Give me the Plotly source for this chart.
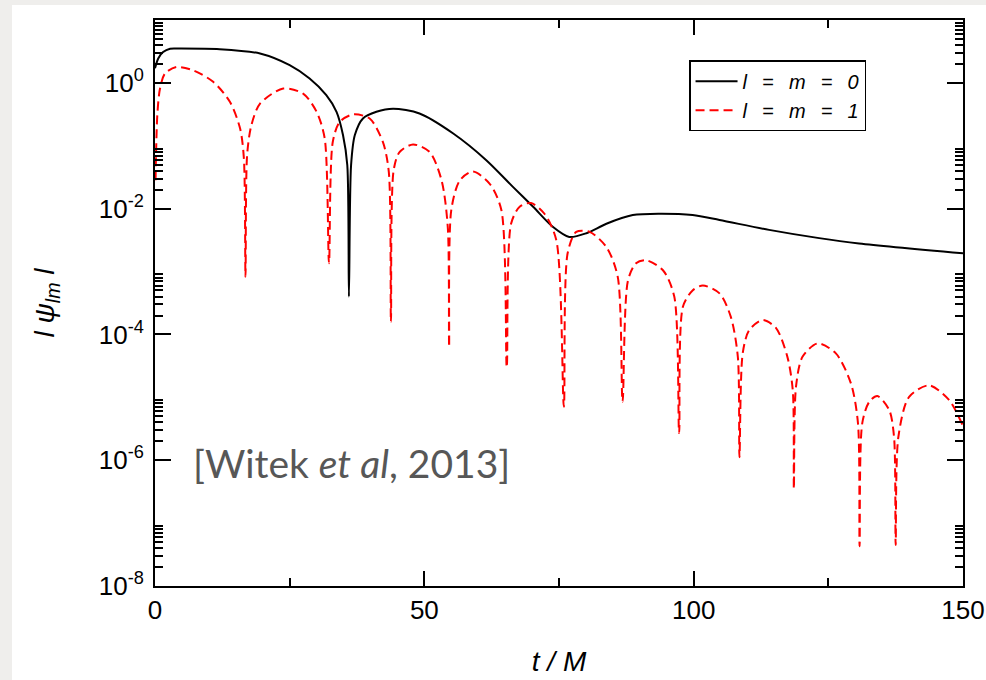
import plotly.graph_objects as go

# ---- data ----
t_l0 = [0, 0.6, 1.5, 2.8, 4.6, 12, 19.5, 25, 28.7, 31.8, 33.7, 34.9, 35.7, 36.0,
        36.4, 37.1, 38.6, 41.1, 44.2, 49.1, 55.3, 61.5, 66.4, 70.2, 73.9, 76.9,
        80.1, 83.8, 88.7, 93.6, 99.8, 104.8, 114, 123.3, 130.7, 150]
psi_l0 = [1.71, 2.45, 3.09, 3.50, 3.52, 3.44, 2.93, 1.91, 1.17, 0.637, 0.347, 0.148,
          0.049, 4.0e-4, 0.049, 0.148, 0.272, 0.347, 0.389, 0.326, 0.158, 0.059,
          0.0224, 0.0107, 5.1e-3, 3.55e-3, 4.07e-3, 5.75e-3, 7.9e-3, 8.3e-3, 7.9e-3,
          6.6e-3, 4.6e-3, 3.4e-3, 2.8e-3, 1.95e-3]

t_l1 = [0.1, 0.43, 0.93, 1.85, 4.0, 7.1, 10.8, 13.9, 15.8, 16.5, 16.8, 17.1, 17.9,
        19.5, 23.8, 27.5, 30.0, 31.5, 32.3, 33.0, 34.3, 36.8, 39.9, 42.3, 43.4,
        43.8, 44.3, 45.4, 47.9, 51.0, 53.2, 54.35, 54.6, 55.0, 56.6, 59.0, 62.1,
        64.3, 65.3, 66.1, 67.7, 69.8, 72.3, 74.5, 75.9, 76.6, 78.2, 80.7, 83.8,
        85.9, 86.8, 87.8, 89.3, 91.2, 94.3, 96.4, 97.3, 98.0, 99.8, 101.7, 104.8,
        106.9, 108.2, 108.5, 109.1, 110.3, 112.8, 115.3, 117.4, 118.4, 118.6,
        119.0, 120.2, 123.0, 126.4, 129.2, 130.5, 130.8, 131.3, 132.6, 134.1,
        136.3, 137.2, 137.5, 138.0, 140.0, 143.7, 147.4, 150]
psi_l1 = [0.0282, 0.309, 0.813, 1.41, 1.79, 1.58, 1.04, 0.501, 0.188, 0.063, 8.3e-4,
          0.0708, 0.214, 0.468, 0.813, 0.676, 0.347, 0.132, 1.35e-3, 0.115, 0.240,
          0.316, 0.269, 0.115, 0.0389, 1.58e-4, 0.0407, 0.0794, 0.105, 0.0794,
          0.0282, 5.1e-3, 6.3e-5, 9.5e-3, 0.0282, 0.0389, 0.0251, 9.5e-3, 3.0e-5,
          5.75e-3, 0.0107, 0.0123, 8.3e-3, 3.16e-3, 7.1e-6, 1.95e-3, 4.27e-3,
          4.27e-3, 2.45e-3, 8.3e-4, 8.5e-6, 7.2e-4, 1.35e-3, 1.51e-3, 1.05e-3,
          4.0e-4, 2.7e-6, 2.75e-4, 5.0e-4, 6.0e-4, 4.5e-4, 1.9e-4, 4.4e-5, 1.12e-6,
          5.0e-5, 1.17e-4, 1.70e-4, 1.26e-4, 4.4e-5, 1.29e-5, 3.5e-7, 1.48e-5,
          4.4e-5, 7.2e-5, 5.0e-5, 1.66e-5, 3.9e-6, 4.3e-8, 3.9e-6, 8.5e-6, 1.05e-5,
          6.3e-6, 2.34e-6, 4.5e-8, 2.34e-6, 1.02e-5, 1.55e-5, 9.1e-6, 3.5e-6]

x_tickvals = [0, 50, 100, 150]
x_ticktext = ["0", "50", "100", "150"]
x_minor = [25, 75, 125]
y_exponents = [0, -2, -4, -6, -8]
y_tickvals = [10.0 ** e for e in y_exponents]
y_ticktext = ["10<sup>%d</sup>" % e for e in y_exponents]
y_minor = [k * 10.0 ** e for e in y_exponents for k in range(2, 10)]

GAP = " \u00a0\u2009"
name_l0 = "<i>l" + GAP + "=" + GAP + "m" + GAP + "=" + GAP + "0</i>"
name_l1 = "<i>l" + GAP + "=" + GAP + "m" + GAP + "=" + GAP + "1</i>"
citation = "[Witek <i>et al</i>, 2013]"

PAGE_GRAY = "#efeeec"

fig = go.Figure()
fig.add_trace(go.Scatter(x=t_l0, y=psi_l0, mode="lines", name=name_l0,
                         line=dict(color="black", width=2, shape="spline",
                                   smoothing=0.8)))
fig.add_trace(go.Scatter(x=t_l1, y=psi_l1, mode="lines", name=name_l1,
                         line=dict(color="#ff0000", width=2, dash="9px,5px",
                                   shape="spline", smoothing=0.8)))

# grey page edge around the white card (left and top strips)
fig.add_shape(type="rect", xref="paper", yref="paper", layer="below",
              x0=-0.25, x1=-0.177, y0=-0.3, y1=1.1,
              fillcolor=PAGE_GRAY, line=dict(width=0))
fig.add_shape(type="rect", xref="paper", yref="paper", layer="below",
              x0=-0.25, x1=1.1, y0=1.0265, y1=1.1,
              fillcolor=PAGE_GRAY, line=dict(width=0))

fig.add_annotation(text=citation, xref="paper", yref="paper", x=0.044, y=0.217,
                   xanchor="left", yanchor="middle", showarrow=False,
                   font=dict(family="Lato", size=39, color="#575757"))

axis_font = dict(family="Liberation Sans, Arial", size=26, color="black")

fig.update_layout(
    template="none",
    width=986, height=680,
    margin=dict(l=155, r=23, t=20, b=94, autoexpand=False),
    paper_bgcolor="white", plot_bgcolor="white",
    showlegend=True,
    legend=dict(x=0.88, y=0.929, xanchor="right", yanchor="top",
                bgcolor="white", bordercolor="black", borderwidth=1.5,
                font=dict(family="Liberation Sans, Arial", size=20, color="black"),
                itemwidth=42, tracegroupgap=0),
    xaxis=dict(range=[0, 150], tickmode="array", tickvals=x_tickvals,
               ticktext=x_ticktext, ticks="inside", ticklen=15, tickwidth=1.5,
               tickcolor="black", showline=True, linecolor="black", linewidth=2,
               mirror="allticks", showgrid=False, zeroline=False, automargin=False,
               tickfont=axis_font,
               minor=dict(tickvals=x_minor, ticks="inside", ticklen=8,
                          tickwidth=1.5, tickcolor="black", showgrid=False),
               title=dict(text="<i>t / M</i>", standoff=27,
                          font=dict(family="Liberation Sans, Arial", size=28,
                                    color="black"))),
    yaxis=dict(type="log", range=[-8, 1], tickmode="array", tickvals=y_tickvals,
               ticktext=y_ticktext, ticks="inside", ticklen=16, tickwidth=1.5,
               tickcolor="black", showline=True, linecolor="black", linewidth=2,
               mirror="allticks", showgrid=False, zeroline=False, automargin=False,
               tickfont=axis_font, ticklabelstandoff=4,
               minor=dict(tickvals=y_minor, ticks="inside", ticklen=8,
                          tickwidth=1.5, tickcolor="black", showgrid=False),
               title=dict(text="<i>l ψ<sub>lm</sub> l</i>", standoff=36,
                          font=dict(family="Liberation Sans, Arial", size=28,
                                    color="black"))),
)

fig.write_html("out.html",
               config={"displayModeBar": False},
               post_script="document.body.style.margin='0';"
                           "document.body.style.background='white';"
                           "document.documentElement.style.overflow='hidden';"
                           "document.body.style.overflow='hidden';")
